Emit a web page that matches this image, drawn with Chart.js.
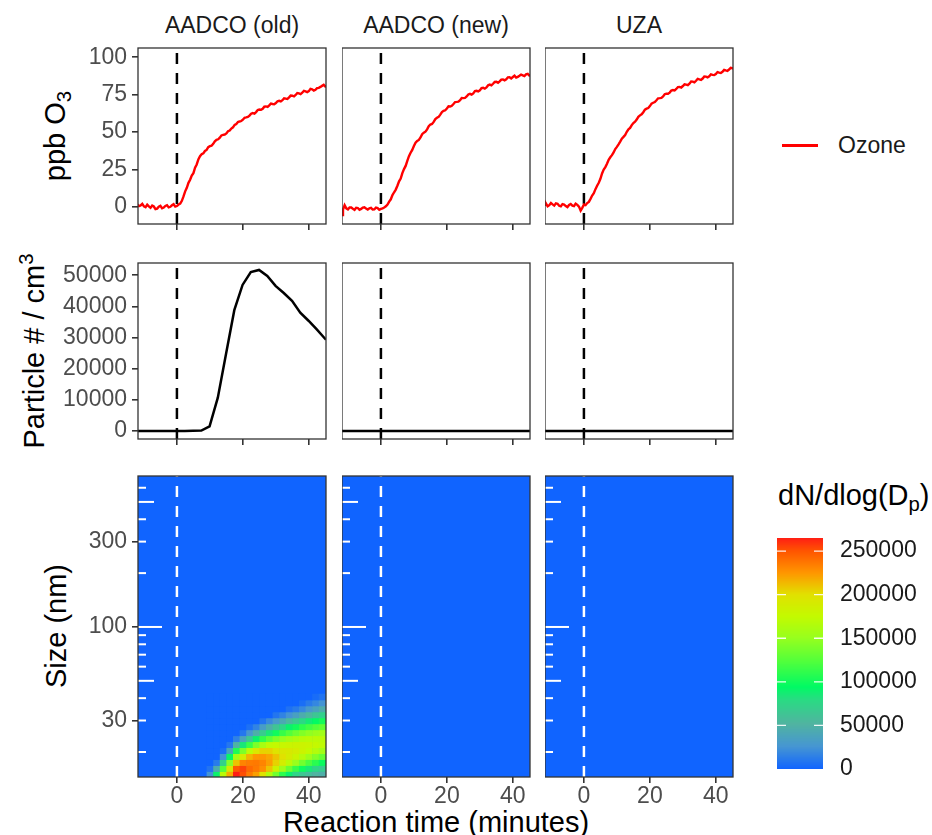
<!DOCTYPE html>
<html>
<head>
<meta charset="utf-8">
<script src="https://cdn.jsdelivr.net/npm/chart.js@4.4.1/dist/chart.umd.min.js"></script>
<style>
  html, body { margin: 0; padding: 0; background: #ffffff; }
  #fig { position: relative; width: 932px; height: 835px; overflow: hidden;
         font-family: "Liberation Sans", Arial, sans-serif; }
  #fig canvas { position: absolute; }
  .t { position: absolute; white-space: nowrap; line-height: 1; transform: translate(-50%, -50%); }
  .strip { font-size: 23px; color: #1a1a1a; }
  .axt { font-size: 29px; color: #000000; }
  .rot { transform: translate(-50%, -50%) rotate(-90deg); }
  .axt sub, .axt sup { font-size: 70%; line-height: 0; }
  .legtxt { position: absolute; font-size: 23px; color: #1a1a1a; white-space: nowrap; line-height: 1; transform: translateY(-50%); }
  .legtitle { position: absolute; font-size: 29px; color: #000000; white-space: nowrap; line-height: 1; transform: translateY(-50%); }
  .legtitle sub { font-size: 70%; line-height: 0; }
  .legkey { position: absolute; height: 2.5px; background: #ff0000; }
</style>
</head>
<body>
<div id="fig">
  <div class="t axt rot" style="left:55px;top:136px">ppb O<sub>3</sub></div>
  <div class="t axt rot" style="left:34px;top:351px">Particle # / cm<sup>3</sup></div>
  <div class="t axt rot" style="left:56px;top:626px">Size (nm)</div>
  <div class="t axt" style="left:436px;top:822px">Reaction time (minutes)</div>
  <div class="legkey" style="left:782px;top:144px;width:36px"></div>
  <div class="legtxt" style="left:838px;top:145px">Ozone</div>
  <div class="legtitle" style="left:778px;top:495px">dN/dlog(D<sub>p</sub>)</div>
</div>
<script>
// ---------------- data ----------------
const sources = ['AADCO (old)', 'AADCO (new)', 'UZA'];

// ozone monitor, one reading every 30 s (minutes relative to injection)
const ozoneTime = [-12, -11.5, -11, -10.5, -10, -9.5, -9, -8.5, -8, -7.5, -7, -6.5, -6, -5.5, -5, -4.5,
  -4, -3.5, -3, -2.5, -2, -1.5, -1, -0.5, 0, 0.5, 1, 1.5, 2, 2.5, 3, 3.5, 4, 4.5, 5, 5.5, 6, 6.5, 7,
  7.5, 8, 8.5, 9, 9.5, 10, 10.5, 11, 11.5, 12, 12.5, 13, 13.5, 14, 14.5, 15, 15.5, 16, 16.5, 17, 17.5,
  18, 18.5, 19, 19.5, 20, 20.5, 21, 21.5, 22, 22.5, 23, 23.5, 24, 24.5, 25, 25.5, 26, 26.5, 27, 27.5,
  28, 28.5, 29, 29.5, 30, 30.5, 31, 31.5, 32, 32.5, 33, 33.5, 34, 34.5, 35, 35.5, 36, 36.5, 37, 37.5,
  38, 38.5, 39, 39.5, 40, 40.5, 41, 41.5, 42, 42.5, 43, 43.5, 44, 44.5, 45, 45.5, 46];
const ozoneOld = [1.8, 0.6, 1.0, 2.1, 0.4, -0.2, 1.5, 0.4, -0.6, 0.9, 0.3, -1.4, -1.1, 0.2, 0.8, -0.9,
  -0.4, 0.7, 1.2, -0.3, 0.1, 1.1, 1.8, 0.2, 0.6, 1.6, 2.2, 4.1, 7.0, 10.4, 12.8, 16.1, 18.2, 20.9,
  22.6, 26.2, 28.4, 31.8, 33.9, 35.2, 35.8, 37.4, 38.1, 39.9, 40.6, 40.9, 42.2, 43.9, 44.9, 45.2,
  46.3, 47.8, 48.2, 48.4, 49.1, 50.6, 51.0, 52.4, 53.2, 54.8, 55.4, 56.7, 57.1, 57.4, 58.3, 59.6,
  59.8, 60.1, 61.0, 62.3, 62.7, 62.4, 63.4, 64.8, 65.1, 64.9, 65.6, 67.0, 67.2, 66.9, 67.9, 69.1,
  68.8, 68.6, 69.4, 70.6, 70.9, 70.5, 71.3, 72.6, 72.4, 72.1, 73.2, 74.4, 74.3, 73.9, 74.8, 76.1,
  75.9, 75.4, 76.3, 77.6, 77.2, 76.7, 77.4, 78.9, 78.6, 77.8, 78.3, 79.4, 79.6, 80.2, 80.9, 81.6,
  80.4, 81.0, 81.2];
const ozoneNew = [-5.5, -1.8, 1.2, -0.9, -1.6, -0.3, -0.4, -1.2, -1.9, -0.5, -0.7, -1.9, -1.3, -0.4,
  -0.2, -1.1, -1.8, -0.9, -0.6, -1.7, -1.6, -0.5, -0.8, -1.9, -1.3, -0.9, -0.4, 0.4, 1.6, 3.6, 5.1,
  7.9, 9.8, 11.6, 14.2, 17.1, 19.0, 22.6, 25.3, 27.4, 30.8, 33.9, 36.2, 38.1, 40.7, 42.9, 44.1, 44.8,
  46.4, 48.6, 49.6, 50.3, 51.8, 53.9, 55.1, 55.4, 56.8, 58.7, 59.6, 60.2, 61.7, 63.4, 64.2, 64.6,
  65.8, 67.2, 67.1, 67.6, 68.8, 70.1, 70.2, 70.4, 71.3, 72.8, 72.7, 72.9, 73.8, 75.2, 75.6, 75.1,
  75.9, 77.4, 77.6, 77.2, 77.9, 79.4, 79.6, 79.0, 79.8, 81.3, 81.7, 81.2, 82.3, 83.5, 83.6, 82.9,
  83.9, 85.1, 85.2, 84.6, 85.3, 86.6, 86.7, 85.9, 86.8, 87.7, 86.4, 86.9, 87.6, 88.4, 87.9, 87.4,
  88.6, 88.9, 87.8, 88.3, 88.6];
const ozoneUZA = [1.4, 2.3, 0.4, 1.2, 2.6, 1.7, 0.9, 2.4, 2.1, 0.8, 0.4, 1.9, 1.6, 0.6, -0.1, 1.3,
  2.0, 0.9, 0.6, 2.2, 1.4, 0.2, -2.4, -0.6, 1.6, 1.2, 2.6, 3.4, 5.4, 7.6, 9.2, 11.9, 14.1, 16.2,
  18.8, 22.4, 25.0, 26.6, 28.9, 31.5, 33.2, 34.6, 36.4, 38.7, 40.1, 41.8, 43.6, 45.6, 46.8, 48.1,
  50.2, 51.9, 52.8, 54.7, 56.1, 57.0, 58.4, 60.2, 61.2, 61.9, 63.3, 65.0, 65.7, 66.1, 67.4, 69.0,
  69.6, 70.1, 71.3, 72.6, 72.7, 72.9, 73.8, 75.3, 75.7, 75.6, 76.4, 77.8, 78.1, 77.9, 78.8, 80.1,
  80.2, 79.8, 80.8, 81.9, 81.7, 81.4, 82.4, 83.8, 83.7, 83.2, 84.3, 85.6, 85.2, 84.9, 85.8, 87.2,
  87.1, 86.6, 87.3, 88.6, 88.2, 88.1, 88.8, 90.1, 89.7, 89.5, 90.3, 91.6, 91.2, 90.9, 91.8, 92.9,
  92.7, 92.4, 93.0];

// SMPS scans: total particle number
const scanTime = [-11.8, -10.1, -7.6, -5.1, -2.6, -0.1, 2.4, 4.9, 7.4, 9.9, 12.4, 14.9, 17.4, 19.9,
  22.4, 24.9, 27.4, 29.9, 32.4, 34.9, 37.4, 39.9, 42.4, 45.2];
const particlesOld = [0, 0, 0, 0, 0, 0, 0, 50, 150, 1500, 10700, 24800, 38800, 46900, 51000, 51700,
  49800, 46600, 44300, 41800, 38000, 35400, 32600, 29300];
const particlesNew = [0, 0, 0, 0, 0, 0, 0, 0, 0, 0, 0, 0, 0, 0, 0, 0, 0, 0, 0, 0, 0, 0, 0, 0];
const particlesUZA = [0, 0, 0, 0, 0, 0, 0, 0, 0, 0, 0, 0, 0, 0, 0, 0, 0, 0, 0, 0, 0, 0, 0, 0];

// size distribution (AADCO old): time bin edges, diameter bin edges (nm), dN/dlogDp per bin
const heatTimeEdges = [9, 11, 13, 15, 17, 19, 21, 23, 25, 27, 29, 31, 33, 35, 37, 39, 41, 43, 45.2];
const sizeEdges = [14.45, 15.61, 16.85, 18.20, 19.65, 21.22, 22.91, 24.74, 26.71, 28.84, 31.14,
  33.63, 36.31, 39.21, 42.34];
const dNdlogDp = [
  [25000, 90000, 170000, 218000, 265000, 252000, 235000, 222000, 198000, 165000, 135000, 110000, 90000, 75000, 65000, 58000, 52000, 48000],
  [8000, 45000, 125000, 195000, 248000, 255000, 242000, 236000, 228000, 210000, 182000, 155000, 133000, 114000, 99000, 86000, 76000, 68000],
  [0, 12000, 72000, 145000, 210000, 232000, 235000, 236000, 232000, 222000, 205000, 188000, 170000, 152000, 136000, 121000, 109000, 98000],
  [0, 0, 25000, 92000, 160000, 190000, 215000, 225000, 225000, 220000, 210000, 200000, 190000, 180000, 167000, 154000, 142000, 132000],
  [0, 0, 5000, 40000, 105000, 140000, 172000, 195000, 205000, 205000, 198000, 194000, 192000, 188000, 182000, 175000, 166000, 158000],
  [0, 0, 0, 10000, 50000, 85000, 115000, 140000, 160000, 172000, 176000, 178000, 180000, 182000, 182000, 180000, 176000, 172000],
  [0, 0, 0, 0, 15000, 38000, 65000, 90000, 112000, 128000, 140000, 150000, 158000, 163000, 168000, 170000, 170000, 170000],
  [0, 0, 0, 0, 0, 10000, 28000, 48000, 68000, 85000, 100000, 114000, 124000, 134000, 142000, 148000, 153000, 156000],
  [0, 0, 0, 0, 0, 0, 6000, 16000, 32000, 48000, 63000, 76000, 90000, 100000, 110000, 118000, 125000, 130000],
  [0, 0, 0, 0, 0, 0, 0, 0, 9000, 20000, 30000, 42000, 55000, 66000, 77000, 87000, 95000, 102000],
  [0, 0, 0, 0, 0, 0, 0, 0, 0, 0, 9000, 16000, 25000, 35000, 45000, 55000, 64000, 72000],
  [0, 0, 0, 0, 0, 0, 0, 0, 0, 0, 0, 0, 7000, 12000, 19000, 29000, 37000, 46000],
  [0, 0, 0, 0, 0, 0, 0, 0, 0, 0, 0, 0, 0, 0, 5000, 12000, 18000, 25000],
  [0, 0, 0, 0, 0, 0, 0, 0, 0, 0, 0, 0, 0, 0, 0, 0, 4000, 8000]
];

// tick values
const timeTicks = [0, 20, 40];
const ozoneTicks = [0, 25, 50, 75, 100];
const particleTicks = [0, 10000, 20000, 30000, 40000, 50000];
const sizeTicks = [30, 100, 300];
const logMarks = [20, 30, 40, 50, 60, 70, 80, 90, 100, 200, 300, 400, 500, 600];
const colourTicks = [0, 50000, 100000, 150000, 200000, 250000];

// ---------------- styling / layout ----------------
const T_MIN = -11.8, T_MAX = 45.2;
const COL_X = [138, 342, 545];
const PANEL_W = 188;
const ROWS = [{ top: 48, h: 176 }, { top: 263, h: 176 }, { top: 476, h: 301 }];
const Y_AXIS_W = 100;
const TICK_FONT = { family: '"Liberation Sans", Arial, sans-serif', size: 23, lineHeight: 1 };
const TICK_COLOUR = '#4d4d4d';

const rampValues = [0, 26000, 52000, 80000, 94000, 123000, 150000, 175000, 200000, 225000, 250000, 265000];
const rampColours = [[16, 100, 255], [70, 150, 210], [80, 180, 160], [40, 220, 130], [0, 250, 100],
  [80, 255, 60], [150, 255, 30], [195, 250, 0], [225, 225, 0], [255, 150, 0], [255, 85, 0], [255, 30, 20]];

function rampColour(v) {
  if (v <= rampValues[0]) return `rgb(${rampColours[0].join(',')})`;
  for (let i = 1; i < rampValues.length; i++) {
    if (v <= rampValues[i]) {
      const f = (v - rampValues[i - 1]) / (rampValues[i] - rampValues[i - 1]);
      const a = rampColours[i - 1], b = rampColours[i];
      const c = a.map((ch, j) => Math.round(ch + (b[j] - ch) * f));
      return `rgb(${c.join(',')})`;
    }
  }
  return `rgb(${rampColours[rampColours.length - 1].join(',')})`;
}

// keep the plot area fixed: tick labels may hang over the panel edges
function fixedBox(size, key) {
  return s => {
    s[key] = size;
    s.paddingTop = 0; s.paddingBottom = 0; s.paddingLeft = 0; s.paddingRight = 0;
  };
}

Chart.defaults.font.family = '"Liberation Sans", Arial, sans-serif';

const fig = document.getElementById('fig');

// facet strip titles
sources.forEach((name, i) => {
  const d = document.createElement('div');
  d.className = 't strip';
  d.style.left = (COL_X[i] + PANEL_W / 2) + 'px';
  d.style.top = '25px';
  d.textContent = name;
  fig.appendChild(d);
});

// ---------------- plugins ----------------
const panelBorder = {
  id: 'panelBorder',
  afterDraw(chart) {
    const a = chart.chartArea, ctx = chart.ctx;
    ctx.save();
    ctx.strokeStyle = '#333333';
    ctx.lineWidth = 1.3;
    ctx.strokeRect(a.left, a.top, a.right - a.left, a.bottom - a.top);
    ctx.restore();
  }
};

function heatLayer(values) {
  return {
    id: 'heatLayer',
    beforeDatasetsDraw(chart) {
      const { ctx, chartArea: a, scales: { x, y } } = chart;
      ctx.save();
      ctx.beginPath();
      ctx.rect(a.left, a.top, a.right - a.left, a.bottom - a.top);
      ctx.clip();
      // bins without counts
      ctx.fillStyle = rampColour(0);
      ctx.fillRect(a.left, a.top, a.right - a.left, a.bottom - a.top);
      if (values) {
        for (let k = 0; k < values.length; k++) {
          const yb = y.getPixelForValue(sizeEdges[k]);
          const yt = y.getPixelForValue(sizeEdges[k + 1]);
          for (let i = 0; i < values[k].length; i++) {
            const x0 = x.getPixelForValue(heatTimeEdges[i]);
            const x1 = x.getPixelForValue(heatTimeEdges[i + 1]);
            ctx.fillStyle = rampColour(values[k][i]);
            ctx.fillRect(x0, yt, x1 - x0 + 0.6, yb - yt + 0.6);
          }
        }
      }
      ctx.restore();
    }
  };
}

const logTickLayer = {
  id: 'logTicks',
  afterDatasetsDraw(chart) {
    const { ctx, chartArea: a, scales: { y } } = chart;
    ctx.save();
    ctx.strokeStyle = '#ffffff';
    ctx.lineWidth = 2;
    for (const m of logMarks) {
      const py = y.getPixelForValue(m);
      if (py < a.top || py > a.bottom) continue;
      const mant = m / Math.pow(10, Math.floor(Math.log10(m) + 1e-9));
      const len = Math.abs(mant - 1) < 1e-6 ? 24 : (Math.abs(mant - 5) < 1e-6 ? 16 : 8);
      ctx.beginPath();
      ctx.moveTo(a.left, py);
      ctx.lineTo(a.left + len, py);
      ctx.stroke();
    }
    ctx.restore();
  }
};

// ---------------- panels ----------------
const rowSpecs = [
  { type: 'linear', min: -11.4, max: 106.2, ticks: ozoneTicks },
  { type: 'linear', min: -2564, max: 53940, ticks: particleTicks },
  { type: 'logarithmic', min: 14.5, max: 698, ticks: sizeTicks }
];

function toPoints(xs, ys) { return xs.map((t, i) => ({ x: t, y: ys[i] })); }

function panelChart(col, row, datasets, extraPlugins) {
  const padT = 6, padR = 4;
  const yw = col === 0 ? Y_AXIS_W : 0;
  const xh = row === 2 ? 44 : 12;
  const W = yw + PANEL_W + padR;
  const H = padT + ROWS[row].h + xh;
  const c = document.createElement('canvas');
  c.width = W; c.height = H;
  c.style.width = W + 'px'; c.style.height = H + 'px';
  c.style.left = (COL_X[col] - yw) + 'px';
  c.style.top = (ROWS[row].top - padT) + 'px';
  fig.appendChild(c);
  const spec = rowSpecs[row];
  new Chart(c, {
    type: 'line',
    data: { datasets },
    options: {
      responsive: false, animation: false, devicePixelRatio: 1,
      layout: { padding: { top: padT, right: padR, left: 0, bottom: 0 } },
      plugins: { legend: { display: false }, tooltip: { enabled: false } },
      elements: { point: { radius: 0 }, line: { tension: 0 } },
      scales: {
        x: {
          type: 'linear', min: T_MIN, max: T_MAX,
          afterBuildTicks: s => { s.ticks = timeTicks.map(v => ({ value: v })); },
          afterFit: fixedBox(xh, 'height'),
          grid: { drawOnChartArea: false, drawTicks: true, tickLength: 6, color: '#333333', lineWidth: 1.6 },
          border: { display: false },
          ticks: { display: row === 2, font: TICK_FONT, color: TICK_COLOUR, padding: 2,
                   maxRotation: 0, autoSkip: false, callback: v => String(v) }
        },
        y: {
          type: spec.type, min: spec.min, max: spec.max, display: col === 0,
          afterBuildTicks: s => { s.ticks = spec.ticks.map(v => ({ value: v })); },
          afterFit: fixedBox(yw, 'width'),
          grid: { drawOnChartArea: false, drawTicks: true, tickLength: 6, color: '#333333', lineWidth: 1.6 },
          border: { display: false },
          ticks: { font: TICK_FONT, color: TICK_COLOUR, padding: 5, autoSkip: false,
                   callback: v => String(v) }
        }
      }
    },
    plugins: [...(extraPlugins || []), panelBorder]
  });
}

function injectionLine(row, colour) {
  const spec = rowSpecs[row];
  return { data: [{ x: 0, y: spec.min }, { x: 0, y: spec.max }], borderColor: colour,
           borderWidth: 2.5, borderDash: [11, 9], pointRadius: 0, clip: 0 };
}

const ozoneSeries = [ozoneOld, ozoneNew, ozoneUZA];
const particleSeries = [particlesOld, particlesNew, particlesUZA];
const heatSeries = [dNdlogDp, null, null];

for (let col = 0; col < 3; col++) {
  panelChart(col, 0, [
    { data: toPoints(ozoneTime, ozoneSeries[col]), borderColor: '#ff0000', borderWidth: 2.4,
      pointRadius: 0, clip: 0 },
    injectionLine(0, '#000000')
  ]);
  panelChart(col, 1, [
    { data: toPoints(scanTime, particleSeries[col]), borderColor: '#000000', borderWidth: 2.5,
      pointRadius: 0, clip: 0 },
    injectionLine(1, '#000000')
  ]);
  panelChart(col, 2, [injectionLine(2, '#ffffff')], [heatLayer(heatSeries[col]), logTickLayer]);
}

// ---------------- colour bar ----------------
(function colourBar() {
  const heatMax = Math.max(...dNdlogDp.map(r => Math.max(...r)));
  const barLeft = 777, barTop = 538, barW = 46, barH = 231;
  const padV = 16, labW = 110;
  const c = document.createElement('canvas');
  const W = barW + labW, H = barH + 2 * padV;
  c.width = W; c.height = H;
  c.style.width = W + 'px'; c.style.height = H + 'px';
  c.style.left = barLeft + 'px'; c.style.top = (barTop - padV) + 'px';
  fig.appendChild(c);
  const barFill = {
    id: 'barFill',
    beforeDatasetsDraw(chart) {
      const { ctx, chartArea: a, scales: { y } } = chart;
      ctx.save();
      for (let py = Math.floor(a.top); py < a.bottom; py++) {
        ctx.fillStyle = rampColour(y.getValueForPixel(py + 0.5));
        ctx.fillRect(a.left, py, a.right - a.left, 1);
      }
      ctx.strokeStyle = 'rgba(255,255,255,0.9)';
      ctx.lineWidth = 1.3;
      for (const v of colourTicks) {
        if (v <= 0) continue;
        const py = y.getPixelForValue(v);
        ctx.beginPath();
        ctx.moveTo(a.left, py); ctx.lineTo(a.left + 9, py);
        ctx.moveTo(a.right - 9, py); ctx.lineTo(a.right, py);
        ctx.stroke();
      }
      ctx.restore();
    }
  };
  new Chart(c, {
    type: 'line',
    data: { datasets: [] },
    options: {
      responsive: false, animation: false, devicePixelRatio: 1,
      layout: { padding: { top: padV, bottom: padV, left: 0, right: 0 } },
      plugins: { legend: { display: false }, tooltip: { enabled: false } },
      scales: {
        x: { type: 'linear', display: false, min: 0, max: 1 },
        y: {
          position: 'right', min: 0, max: heatMax,
          afterBuildTicks: s => { s.ticks = colourTicks.map(v => ({ value: v })); },
          afterFit: fixedBox(labW, 'width'),
          grid: { display: false, drawTicks: false },
          border: { display: false },
          ticks: { font: TICK_FONT, color: '#1a1a1a', padding: 17, autoSkip: false,
                   callback: v => String(v) }
        }
      }
    },
    plugins: [barFill]
  });
})();
</script>
</body>
</html>
